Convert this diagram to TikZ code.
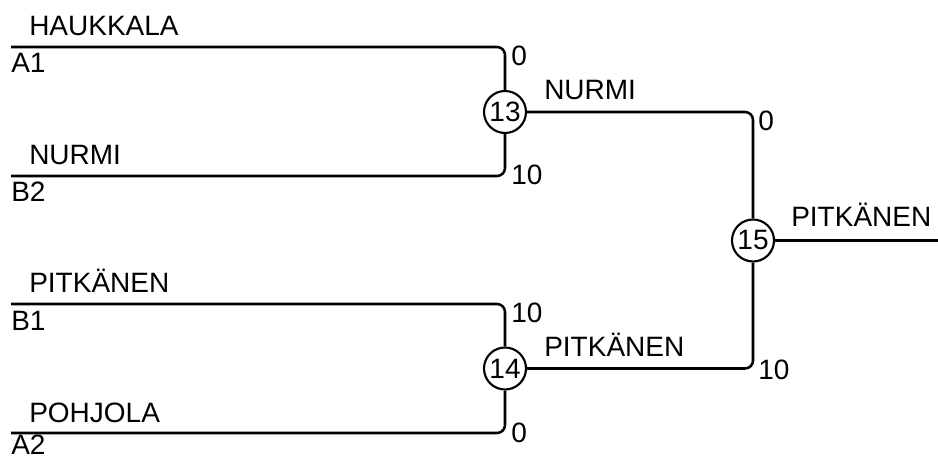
\documentclass[tikz,border=0pt]{standalone}
\usepackage{fontspec}
\setmainfont{Liberation Sans}
\begin{document}
\begin{tikzpicture}[x=0.75pt,y=-0.75pt,
  line/.style={line width=1.9pt, rounded corners=6pt},
  game/.style={circle, draw, line width=1.6pt, minimum size=31.5pt, inner sep=0pt, font=\fontsize{21}{25}\selectfont},
  lbl/.style={inner sep=0pt, anchor=base west, font=\fontsize{21}{25}\selectfont}]
\useasboundingbox (0,0) rectangle (938,459);
% games
\node[game] (g13) at (505,112) {13};
\node[game] (g14) at (505,368.5) {14};
\node[game] (g15) at (753,240.5) {15};
% entries
\coordinate (a1) at (11,47);
\coordinate (b2) at (11,176);
\coordinate (b1) at (11,304);
\coordinate (a2) at (11,433);
\coordinate (fin) at (938,240.5);
\draw[line] (a1) -| (g13);
\draw[line] (b2) -| (g13);
\draw[line] (b1) -| (g14);
\draw[line] (a2) -| (g14);
\draw[line] (g13) -| (g15);
\draw[line] (g14) -| (g15);
\draw[line] (g15) -- (fin);
% names
\node[lbl] (n1) at (29,36) {HAUKKALA};
\node[lbl] (n2) at (29,165) {NURMI};
\node[lbl] (n3) at (29,293) {PITKÄNEN};
\node[lbl] (n4) at (29,422) {POHJOLA};
\node[lbl] (s1) at (11,73) {A1};
\node[lbl] (s2) at (11,202) {B2};
\node[lbl] (s3) at (11,330) {B1};
\node[lbl] (s4) at (11,454) {A2};
% scores
\node[lbl] (p1) at (511,66) {0};
\node[lbl] (p2) at (511,185) {10};
\node[lbl] (p3) at (511,323) {10};
\node[lbl] (p4) at (511,442) {0};
\node[lbl] (p5) at (758,131) {0};
\node[lbl] (p6) at (758,379) {10};
% winners
\node[lbl] (w1) at (544,100) {NURMI};
\node[lbl] (w2) at (544,356) {PITKÄNEN};
\node[lbl] (w3) at (791,227) {PITKÄNEN};
\end{tikzpicture}
\end{document}
